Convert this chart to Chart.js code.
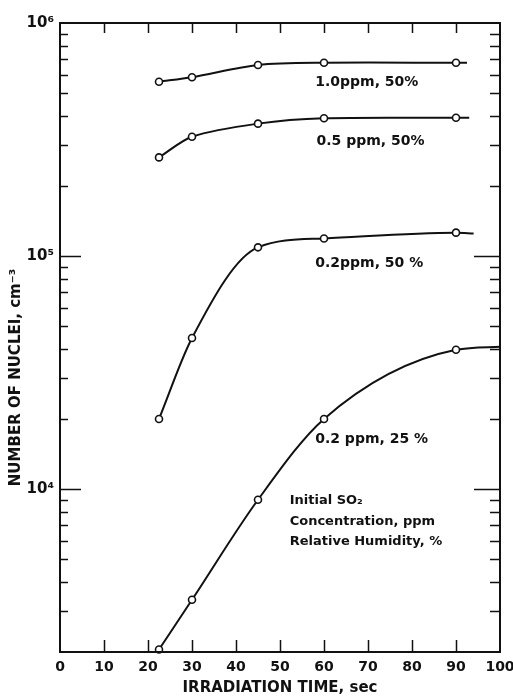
<!DOCTYPE html>
<html>
<head>
<meta charset="utf-8">
<script src="https://cdn.jsdelivr.net/npm/chart.js@4/dist/chart.umd.min.js"></script>
<style>
  html, body { margin: 0; padding: 0; background: #fff; }
  canvas { display: block; }
</style>
</head>
<body>
<canvas id="chart" width="513" height="697"></canvas>
<script>
// Irradiation time of each measurement, seconds
const irradiationTime = [22.5, 30, 45, 60, 90];

// Number of nuclei (cm^-3) for each SO2 concentration / relative humidity
const nuclei_1_0ppm_50 = [5.6e5, 5.85e5, 6.6e5, 6.75e5, 6.75e5];
const nuclei_0_5ppm_50 = [2.65e5, 3.25e5, 3.7e5, 3.9e5, 3.92e5];
const nuclei_0_2ppm_50 = [2.0e4, 4.45e4, 1.09e5, 1.19e5, 1.26e5];
const nuclei_0_2ppm_25 = [2.05e3, 3.35e3, 9.0e3, 2.0e4, 3.96e4];

// Where each hand-drawn smoothing curve runs out past the last measurement
const curveEndTime  = [92.5, 93, 94, 100];
const curveEndValue = [6.75e5, 3.92e5, 1.25e5, 4.08e4];

// Curve labels
const seriesLabels = ['1.0ppm, 50%', '0.5 ppm, 50%', '0.2ppm, 50 %', '0.2 ppm, 25 %'];

// Axis ticks
const xTickValues = [0, 10, 20, 30, 40, 50, 60, 70, 80, 90, 100];
const yMajorValues = [1e4, 1e5, 1e6];
const yMajorLabels = ['10\u2074', '10\u2075', '10\u2076'];
const legendLines = ['Initial SO\u2082', 'Concentration, ppm', 'Relative Humidity, %'];

const seriesValues = [nuclei_1_0ppm_50, nuclei_0_5ppm_50, nuclei_0_2ppm_50, nuclei_0_2ppm_25];

// Label anchors (left edge, vertical middle) in data units
const labelAnchors = [
  { x: 58, y: 5.58e5 },
  { x: 58.3, y: 3.11e5 },
  { x: 58, y: 9.27e4 },
  { x: 58, y: 1.63e4 }
];
const legendAnchor = { x: 52.2, y: [8.94e3, 7.22e3, 5.93e3] };

const INK = '#111';
const FONT = '"DejaVu Sans", "Liberation Sans", sans-serif';

// the two upper curves are gentle arcs; the lower two rise steeply then level off
const curveStyle = [
  { tension: 0.3 },
  { tension: 0.3 },
  { cubicInterpolationMode: 'monotone' },
  { cubicInterpolationMode: 'monotone' }
];

const datasets = seriesValues.map((vals, s) => {
  const pts = irradiationTime.map((t, i) => ({ x: t, y: vals[i] }));
  pts.push({ x: curveEndTime[s], y: curveEndValue[s] });
  return Object.assign({
    label: seriesLabels[s],
    data: pts,
    borderColor: INK,
    borderWidth: 2,
    backgroundColor: '#fff',
    pointBackgroundColor: '#fff',
    pointBorderColor: INK,
    pointBorderWidth: 1.6,
    pointRadius: pts.map((p, i) => (i < irradiationTime.length ? 3.5 : 0)),
    clip: false
  }, curveStyle[s]);
});

// Minor ticks of the logarithmic axis (2..9 within each decade)
const yMinorValues = [];
[1e3, 1e4, 1e5].forEach(d => {
  for (let m = 2; m <= 9; m++) {
    const v = m * d;
    if (v > 2000) yMinorValues.push(v);
  }
});

const framePlugin = {
  id: 'frameAndTicks',
  afterDatasetsDraw(chart) {
    const { ctx, chartArea: a } = chart;
    const xs = chart.scales.x, ys = chart.scales.y;
    ctx.save();
    ctx.strokeStyle = INK;
    ctx.lineCap = 'butt';

    // inward tick marks
    ctx.lineWidth = 1.5;
    ctx.beginPath();
    xTickValues.slice(1, -1).forEach(v => {
      const px = Math.round(xs.getPixelForValue(v)) + 0.5;
      ctx.moveTo(px, a.bottom); ctx.lineTo(px, a.bottom - 12);
      ctx.moveTo(px, a.top); ctx.lineTo(px, a.top + 10);
    });
    yMinorValues.forEach(v => {
      const py = Math.round(ys.getPixelForValue(v)) + 0.5;
      ctx.moveTo(a.left, py); ctx.lineTo(a.left + 8, py);
      ctx.moveTo(a.right, py); ctx.lineTo(a.right - 10, py);
    });
    yMajorValues.slice(0, -1).forEach(v => {
      const py = Math.round(ys.getPixelForValue(v)) + 0.5;
      ctx.moveTo(a.left, py); ctx.lineTo(a.left + 21, py);
      ctx.moveTo(a.right, py); ctx.lineTo(a.right - 26, py);
    });
    ctx.stroke();

    // frame
    ctx.lineWidth = 2;
    ctx.strokeRect(a.left, a.top, a.right - a.left, a.bottom - a.top);

    // curve labels
    ctx.fillStyle = INK;
    ctx.textBaseline = 'middle';
    ctx.textAlign = 'left';
    ctx.font = 'bold 14px ' + FONT;
    seriesLabels.forEach((txt, i) => {
      ctx.fillText(txt, xs.getPixelForValue(labelAnchors[i].x), ys.getPixelForValue(labelAnchors[i].y));
    });

    // key text
    ctx.font = 'bold 13px ' + FONT;
    legendLines.forEach((txt, i) => {
      ctx.fillText(txt, xs.getPixelForValue(legendAnchor.x), ys.getPixelForValue(legendAnchor.y[i]));
    });

    // vertical axis title
    ctx.save();
    ctx.translate(16, (a.top + a.bottom) / 2 + 40);
    ctx.rotate(-Math.PI / 2);
    ctx.textAlign = 'center';
    ctx.font = 'bold 15px ' + FONT;
    ctx.fillText('NUMBER OF NUCLEI, cm\u207B\u00B3', 0, 0);
    ctx.restore();

    ctx.restore();
  }
};

new Chart(document.getElementById('chart'), {
  type: 'line',
  data: { datasets },
  plugins: [framePlugin],
  options: {
    responsive: false,
    animation: false,
    layout: { padding: { top: 23, right: 13, left: 0, bottom: 0 } },
    plugins: { legend: { display: false }, tooltip: { enabled: false } },
    scales: {
      x: {
        type: 'linear',
        min: 0,
        max: 100,
        afterBuildTicks: s => { s.ticks = xTickValues.map(v => ({ value: v })); },
        afterFit: s => { s.height = 45; s.paddingLeft = 0; s.paddingRight = 0; },
        grid: { display: false, drawTicks: false },
        border: { display: false },
        ticks: {
          autoSkip: false,
          maxRotation: 0,
          padding: 7,
          color: INK,
          font: { family: FONT, size: 14, weight: 'bold' }
        },
        title: {
          display: true,
          text: 'IRRADIATION TIME, sec',
          color: INK,
          font: { family: FONT, size: 15, weight: 'bold' },
          padding: { top: 8, bottom: 0 }
        }
      },
      y: {
        type: 'logarithmic',
        min: 2000,
        max: 1e6,
        afterBuildTicks: s => { s.ticks = yMajorValues.map(v => ({ value: v })); },
        afterFit: s => { s.width = 60; s.paddingTop = 0; s.paddingBottom = 0; },
        grid: { display: false, drawTicks: false },
        border: { display: false },
        ticks: {
          autoSkip: false,
          padding: 6,
          color: INK,
          font: { family: FONT, size: 15, weight: 'bold' },
          callback: v => {
            const i = yMajorValues.indexOf(v);
            return i >= 0 ? yMajorLabels[i] : '';
          }
        }
      }
    }
  }
});
</script>
</body>
</html>
